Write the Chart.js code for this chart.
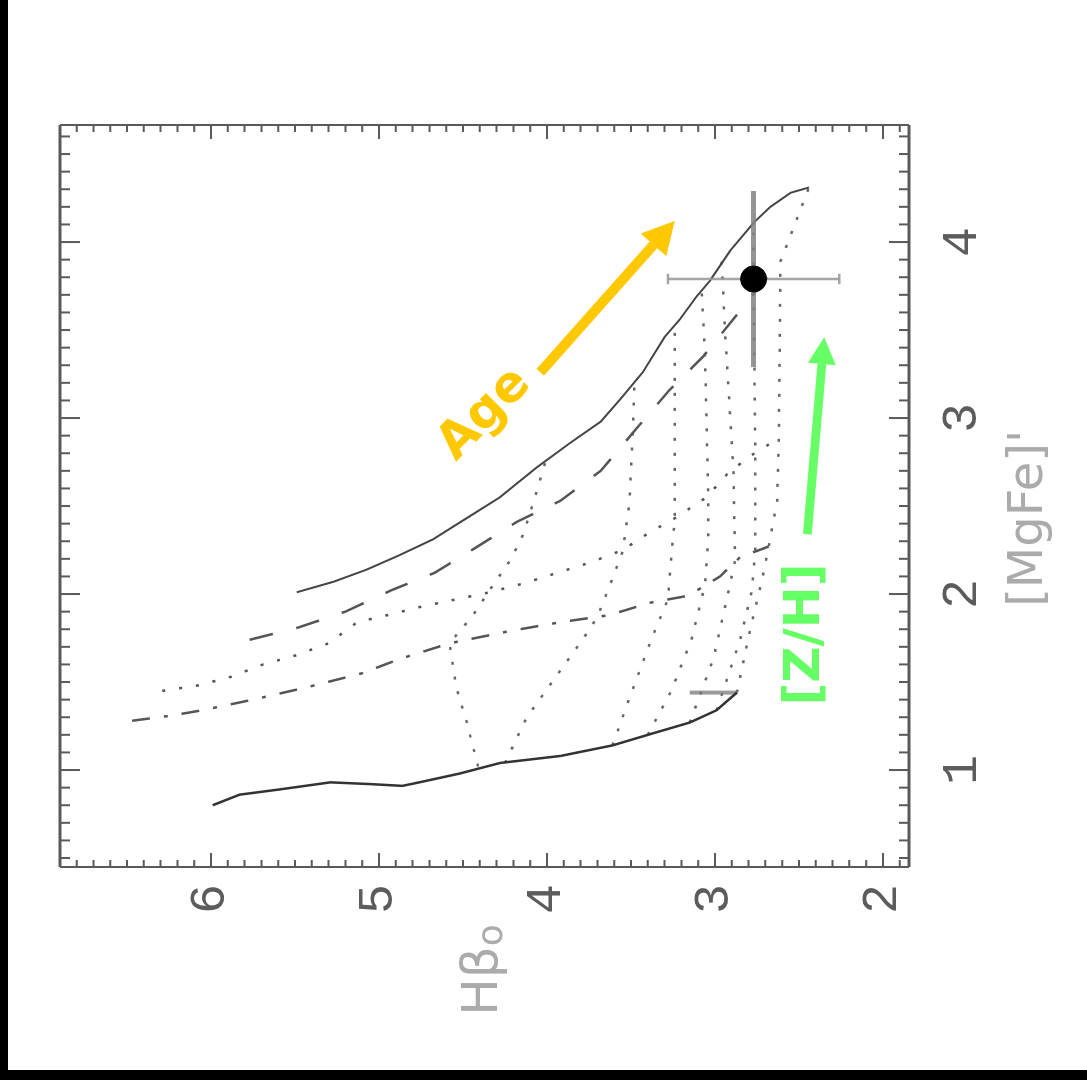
<!DOCTYPE html>
<html>
<head>
<meta charset="utf-8">
<script src="https://cdn.jsdelivr.net/npm/chart.js@4.4.1/dist/chart.umd.min.js"></script>
<style>
  html, body { margin: 0; padding: 0; background: #000; width: 1087px; height: 1080px; overflow: hidden; }
  /* the figure is shown turned a quarter turn counter-clockwise */
  #plot { position: absolute; left: 0; top: 0; transform-origin: 0 0; transform: translate(8px, 1070px) rotate(-90deg); }
</style>
</head>
<body>
<canvas id="plot" width="1070" height="1079"></canvas>
<script>
// ============================================================
// Hbeta_o vs [MgFe]' model grid with one galaxy measurement
// ============================================================

// axis ticks
const mgfeTicks  = [1, 2, 3, 4];
const hbetaTicks = [2, 3, 4, 5, 6];
const mgfeRange  = [0.449, 4.665];
const hbetaRange = [1.845, 6.899];

// tracks of constant [Z/H] (age varies along them): [MgFe]', Hbeta_o
const zTrackA = [[0.80,5.99],[0.86,5.83],[0.89,5.59],[0.93,5.29],[0.92,5.05],[0.91,4.86],[0.93,4.76],[0.98,4.52],[1.04,4.28],[1.08,3.92],[1.14,3.61],[1.20,3.40],[1.27,3.15],[1.34,2.99],[1.44,2.87]];
const zTrackB = [[1.28,6.47],[1.31,6.23],[1.34,6.05],[1.40,5.75],[1.47,5.43],[1.55,5.10],[1.63,4.88],[1.72,4.58],[1.79,4.22],[1.84,3.92],[1.88,3.63],[1.95,3.39],[1.99,3.16],[2.10,2.97],[2.21,2.85],[2.27,2.68]];
const zTrackC = [[1.45,6.29],[1.48,6.08],[1.53,5.88],[1.60,5.69],[1.65,5.50],[1.72,5.30],[1.84,5.13],[1.88,4.95],[1.93,4.74],[1.97,4.54],[2.01,4.34],[2.06,4.14],[2.12,3.94],[2.18,3.74],[2.25,3.55],[2.35,3.39],[2.43,3.24],[2.55,3.05],[2.69,2.92],[2.79,2.78],[2.88,2.63]];
const zTrackD = [[1.74,5.77],[1.81,5.48],[1.90,5.20],[2.02,4.93],[2.12,4.67],[2.26,4.43],[2.41,4.18],[2.53,3.92],[2.70,3.68],[2.96,3.45],[3.16,3.27],[3.35,3.07],[3.61,2.85],[3.89,2.61]];
const zTrackE = [[2.01,5.49],[2.07,5.27],[2.14,5.07],[2.22,4.88],[2.31,4.68],[2.43,4.48],[2.55,4.28],[2.72,4.06],[2.86,3.86],[2.98,3.68],[3.10,3.57],[3.26,3.43],[3.46,3.30],[3.56,3.21],[3.69,3.11],[3.78,3.03],[3.95,2.91],[4.11,2.77],[4.20,2.67],[4.28,2.55],[4.31,2.44]];

// tracks of constant age ([Z/H] varies along them)
const ageTrack1 = [[1.02,4.41],[1.28,4.48],[1.47,4.54],[1.72,4.58],[1.88,4.44],[2.01,4.35],[2.19,4.22],[2.32,4.15],[2.46,4.10],[2.75,4.01]];
const ageTrack2 = [[1.04,4.25],[1.30,4.12],[1.54,3.94],[1.78,3.76],[1.87,3.70],[2.04,3.63],[2.24,3.55],[2.51,3.51],[2.90,3.49],[3.19,3.48]];
const ageTrack3 = [[1.14,3.61],[1.38,3.52],[1.56,3.45],[1.74,3.38],[1.97,3.28],[2.21,3.26],[2.42,3.24],[2.60,3.24],[3.17,3.24],[3.52,3.24]];
const ageTrack4 = [[1.20,3.40],[1.45,3.26],[1.74,3.14],[2.05,3.06],[2.31,3.04],[2.56,3.04],[3.38,3.06],[3.73,3.08]];
const ageTrack5 = [[1.27,3.15],[1.63,3.01],[1.97,2.93],[2.19,2.88],[2.70,2.89],[3.49,2.94],[3.89,2.96]];
const ageTrack6 = [[1.34,2.99],[1.74,2.85],[2.02,2.78],[2.24,2.76],[2.80,2.76],[3.71,2.77],[4.11,2.77]];
const ageTrack7 = [[1.44,2.87],[1.80,2.79],[2.08,2.72],[2.27,2.68],[2.53,2.63],[2.88,2.62],[3.89,2.61],[4.31,2.44]];

// short grey bar at the old end of the lowest track
const greyBar = [[1.44,3.15],[1.44,2.87]];

// galaxy measurement
const galaxyMgFe  = 3.79;
const galaxyHbeta = 2.77;
const errMgFe     = 0.50;
const errHbeta    = 0.51;

// annotation arrows: [MgFe]', Hbeta_o at tail and head
const ageArrow = [[3.26,4.04],[4.12,3.24]];
const zhArrow  = [[2.34,2.45],[3.46,2.35]];
const ageLabelAt = [3.02,4.37];
const zhLabelAt  = [1.77,2.46];

const toPts = arr => arr.map(([x, y]) => ({ x, y }));

function track(data, color, width, dash, order) {
    return {
        data: toPts(data),
        showLine: true,
        borderColor: color,
        borderWidth: width,
        borderDash: dash,
        borderCapStyle: 'butt',
        pointRadius: 0,
        tension: 0,
        order: order,
    };
}

const ageDash = [3, 12];
const tickFont = { family: '"Liberation Mono", "DejaVu Sans Mono", monospace', size: 50 };

const datasets = [
    {
        data: [{ x: galaxyMgFe, y: galaxyHbeta }],
        pointRadius: 13,
        pointBackgroundColor: '#000',
        pointBorderColor: '#000',
        order: 0,
    },
    track([[galaxyMgFe - errMgFe, galaxyHbeta], [galaxyMgFe + errMgFe, galaxyHbeta]], 'rgba(130,130,130,0.85)', 5, [], 1),
    track([[galaxyMgFe, galaxyHbeta - errHbeta], [galaxyMgFe, galaxyHbeta + errHbeta]], 'rgba(150,150,150,0.85)', 2.5, [], 1),
    track([[galaxyMgFe - 0.03, galaxyHbeta - errHbeta], [galaxyMgFe + 0.03, galaxyHbeta - errHbeta]], 'rgba(150,150,150,0.85)', 2.5, [], 1),
    track([[galaxyMgFe - 0.03, galaxyHbeta + errHbeta], [galaxyMgFe + 0.03, galaxyHbeta + errHbeta]], 'rgba(150,150,150,0.85)', 2.5, [], 1),
    track(zTrackA, '#333', 2.5, [], 2),
    track(zTrackB, '#555', 2.5, [18, 14, 4, 14], 2),
    track(zTrackC, '#555', 2.5, [3, 14], 2),
    track(zTrackD, '#555', 2.5, [24, 24], 2),
    track(zTrackE, '#444', 2, [], 2),
    track(greyBar, 'rgba(120,120,120,0.75)', 4, [], 3),
    track(ageTrack1, '#666', 2.5, ageDash, 3),
    track(ageTrack2, '#666', 2.5, ageDash, 3),
    track(ageTrack3, '#666', 2.5, ageDash, 3),
    track(ageTrack4, '#666', 2.5, ageDash, 3),
    track(ageTrack5, '#666', 2.5, ageDash, 3),
    track(ageTrack6, '#666', 2.5, ageDash, 3),
    track(ageTrack7, '#666', 2.5, ageDash, 3),
];

// ── white page, boxed frame with inward minor/major ticks ──
const frameTicks = {
    id: 'frameTicks',
    beforeDraw(chart) {
        const ctx = chart.ctx;
        ctx.save();
        ctx.fillStyle = '#fff';
        ctx.fillRect(0, 0, chart.width, chart.height);
        ctx.restore();
    },
    afterDatasetsDraw(chart) {
        const { ctx, chartArea: a, scales: { x, y } } = chart;
        ctx.save();
        ctx.strokeStyle = '#5a5a5a';
        ctx.lineWidth = 3;
        ctx.beginPath();
        ctx.moveTo(a.left, a.top); ctx.lineTo(a.right, a.top);
        ctx.moveTo(a.left, a.bottom); ctx.lineTo(a.right, a.bottom);
        ctx.stroke();
        ctx.lineWidth = 2;
        ctx.beginPath();
        ctx.moveTo(a.left, a.top); ctx.lineTo(a.left, a.bottom);
        ctx.moveTo(a.right, a.top); ctx.lineTo(a.right, a.bottom);
        ctx.stroke();

        ctx.lineWidth = 2;
        ctx.beginPath();
        for (let k = Math.ceil(x.min * 10); k <= Math.floor(x.max * 10); k++) {
            const px = x.getPixelForValue(k / 10);
            const len = k % 10 === 0 ? 20 : 10;
            ctx.moveTo(px, a.top); ctx.lineTo(px, a.top + len);
            ctx.moveTo(px, a.bottom); ctx.lineTo(px, a.bottom - len);
        }
        for (let k = Math.ceil(y.min * 10); k <= Math.floor(y.max * 10); k++) {
            const py = y.getPixelForValue(k / 10);
            const len = k % 10 === 0 ? 14 : 7;
            ctx.moveTo(a.left, py); ctx.lineTo(a.left + len, py);
            ctx.moveTo(a.right, py); ctx.lineTo(a.right - len, py);
        }
        ctx.stroke();
        ctx.restore();
    }
};

// ── axis titles, arrows and their labels ──
function arrow(ctx, x0, y0, x1, y1, color, width, headLen, headHalf) {
    const ang = Math.atan2(y1 - y0, x1 - x0);
    const bx = x1 - headLen * Math.cos(ang);
    const by = y1 - headLen * Math.sin(ang);
    ctx.strokeStyle = color;
    ctx.fillStyle = color;
    ctx.lineWidth = width;
    ctx.lineCap = 'butt';
    ctx.beginPath();
    ctx.moveTo(x0, y0);
    ctx.lineTo(bx, by);
    ctx.stroke();
    ctx.beginPath();
    ctx.moveTo(x1, y1);
    ctx.lineTo(bx + headHalf * Math.sin(ang), by - headHalf * Math.cos(ang));
    ctx.lineTo(bx - headHalf * Math.sin(ang), by + headHalf * Math.cos(ang));
    ctx.closePath();
    ctx.fill();
}

const annotations = {
    id: 'annotations',
    afterDraw(chart) {
        const { ctx, chartArea: a, scales: { x, y } } = chart;
        ctx.save();

        // axis titles
        ctx.fillStyle = '#ababab';
        ctx.textAlign = 'center';
        ctx.textBaseline = 'middle';
        ctx.font = '48px "DejaVu Sans"';
        ctx.fillText("[MgFe]'", x.getPixelForValue(2.43), a.bottom + 121);

        const hx = 100, hy = (a.top + a.bottom) / 2;
        ctx.textAlign = 'left';
        ctx.font = '50px "DejaVu Sans"';
        const wH = ctx.measureText('Hβ').width;
        ctx.font = '36px "DejaVu Sans"';
        const wo = ctx.measureText('o').width;
        const left = hx - (wH + wo) / 2;
        ctx.font = '50px "DejaVu Sans"';
        ctx.fillText('Hβ', left, hy);
        ctx.font = '36px "DejaVu Sans"';
        ctx.fillText('o', left + wH, hy + 8);

        // arrows
        arrow(ctx,
            x.getPixelForValue(ageArrow[0][0]), y.getPixelForValue(ageArrow[0][1]),
            x.getPixelForValue(ageArrow[1][0]), y.getPixelForValue(ageArrow[1][1]),
            '#ffc800', 10, 32, 17);
        arrow(ctx,
            x.getPixelForValue(zhArrow[0][0]), y.getPixelForValue(zhArrow[0][1]),
            x.getPixelForValue(zhArrow[1][0]), y.getPixelForValue(zhArrow[1][1]),
            '#66ff66', 9, 27, 14);

        // labels
        ctx.textAlign = 'center';
        ctx.textBaseline = 'middle';
        ctx.font = 'bold 50px "DejaVu Sans"';
        ctx.fillStyle = '#ffc800';
        ctx.save();
        ctx.translate(x.getPixelForValue(ageLabelAt[0]), y.getPixelForValue(ageLabelAt[1]));
        ctx.rotate(Math.PI / 4);
        ctx.fillText('Age', 0, 0);
        ctx.restore();

        ctx.fillStyle = '#66ff66';
        ctx.fillText('[Z/H]', x.getPixelForValue(zhLabelAt[0]), y.getPixelForValue(zhLabelAt[1]));

        ctx.restore();
    }
};

new Chart(document.getElementById('plot'), {
    type: 'scatter',
    data: { datasets },
    options: {
        responsive: false,
        animation: false,
        devicePixelRatio: 1,
        layout: { padding: { left: 0, right: 125, top: 52, bottom: 0 } },
        plugins: {
            legend: { display: false },
            tooltip: { enabled: false },
        },
        scales: {
            x: {
                type: 'linear',
                position: 'bottom',
                min: mgfeRange[0],
                max: mgfeRange[1],
                grid: { display: false, drawTicks: false },
                border: { display: false },
                afterBuildTicks: s => { s.ticks = mgfeTicks.map(v => ({ value: v })); },
                afterFit: s => { s.height = 178; },
                ticks: {
                    color: '#5c5c5c',
                    font: tickFont,
                    padding: 24,
                    maxRotation: 0,
                    minRotation: 0,
                    callback: v => String(v),
                },
            },
            y: {
                type: 'linear',
                position: 'left',
                min: hbetaRange[0],
                max: hbetaRange[1],
                grid: { display: false, drawTicks: false },
                border: { display: false },
                afterBuildTicks: s => { s.ticks = hbetaTicks.map(v => ({ value: v })); },
                afterFit: s => { s.width = 203; },
                ticks: {
                    color: '#5c5c5c',
                    font: tickFont,
                    padding: 17,
                    callback: v => String(v),
                },
            },
        },
    },
    plugins: [frameTicks, annotations],
});
</script>
</body>
</html>
